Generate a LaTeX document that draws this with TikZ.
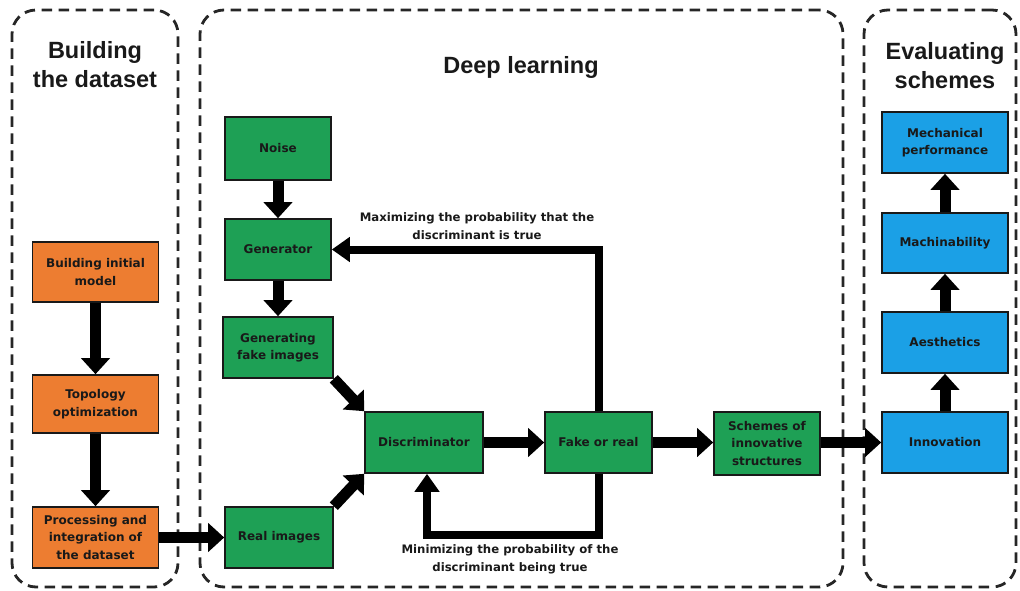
\documentclass[tikz,border=0pt]{standalone}
\usepackage{fontspec}
\setmainfont{Liberation Sans}
\newfontfamily\boxfont{DejaVu Sans}
\usetikzlibrary{arrows.meta}
\definecolor{orangebox}{RGB}{237,125,49}
\definecolor{greenbox}{RGB}{30,160,85}
\definecolor{bluebox}{RGB}{27,160,230}
\tikzset{
  container/.style={draw=black!85, line width=2.8pt, dash pattern=on 10.5pt off 6.5pt, rounded corners=24pt, inner sep=0pt},
  basebox/.style={draw=black!90, line width=1.6pt, align=center, inner sep=2pt,
    font=\boxfont\bfseries\fontsize{12}{17.5}\selectfont, text=black!90},
  obox/.style={basebox, fill=orangebox},
  gbox/.style={basebox, fill=greenbox},
  bbox/.style={basebox, fill=bluebox},
  heading/.style={align=center, font=\bfseries\fontsize{23.5}{29}\selectfont, text=black!90},
  note/.style={align=center, font=\boxfont\bfseries\fontsize{11.7}{18}\selectfont, text=black!90},
  bigarrow/.style={line width=11pt, -{Triangle[width=28pt,length=16pt]}},
  fbarrow/.style={line width=8pt, -{Triangle[width=24pt,length=18pt]}},
}
\begin{document}
\begin{tikzpicture}[x=1pt,y=-1pt]
\useasboundingbox (0,0) rectangle (1020,591);
% containers
\node[container, minimum width=166, minimum height=577] (c1) at (95,298.5) {};
\node[container, minimum width=643, minimum height=577] (c2) at (521.5,298.5) {};
\node[container, minimum width=152, minimum height=577] (c3) at (940,298.5) {};
% headings
\node[heading] (h1) at (95,65) {Building\\the dataset};
\node[heading] (h2) at (521,67) {Deep learning};
\node[heading] (h3) at (945,66) {Evaluating\\schemes};
% orange
\node[obox, minimum width=126, minimum height=60] (init) at (95.5,272) {Building initial\\model};
\node[obox, minimum width=126, minimum height=58] (topo) at (95.5,404) {Topology\\optimization};
\node[obox, minimum width=126, minimum height=61] (proc) at (95.5,537.5) {Processing and\\integration of\\the dataset};
% green
\node[gbox, minimum width=106, minimum height=63] (noise) at (278,148.5) {Noise};
\node[gbox, minimum width=106, minimum height=61] (gen) at (278,249.5) {Generator};
\node[gbox, minimum width=110, minimum height=61] (fake) at (278,347.5) {Generating\\fake images};
\node[gbox, minimum width=108, minimum height=61] (real) at (279,537.5) {Real images};
\node[gbox, minimum width=118, minimum height=61] (disc) at (424,442.5) {Discriminator};
\node[gbox, minimum width=107, minimum height=61] (for) at (598.5,442.5) {Fake or real};
\node[gbox, minimum width=106, minimum height=63] (sch) at (767,443.5) {Schemes of\\innovative\\structures};
% blue
\node[bbox, minimum width=126, minimum height=61] (mech) at (945,142.5) {Mechanical\\performance};
\node[bbox, minimum width=126, minimum height=60] (mach) at (945,243) {Machinability};
\node[bbox, minimum width=126, minimum height=61] (aes) at (945,342.5) {Aesthetics};
\node[bbox, minimum width=126, minimum height=61] (inn) at (945,442.5) {Innovation};
% arrows
\draw[bigarrow] (init) -- (topo);
\draw[bigarrow] (topo) -- (proc);
\draw[bigarrow] (proc) -- (real);
\draw[bigarrow] (noise) -- (gen);
\draw[bigarrow] (gen) -- (fake);
\draw[bigarrow] (fake.south east) -- (disc.north west);
\draw[bigarrow] (real.north east) -- (disc.south west);
\draw[bigarrow] (disc) -- (for);
\draw[bigarrow] (for.east) -- (sch.west |- for.east);
\draw[bigarrow] (sch.east |- inn.west) -- (inn.west);
\draw[bigarrow] (inn) -- (aes);
\draw[bigarrow] (aes) -- (mach);
\draw[bigarrow] (mach) -- (mech);
% feedback
\draw[fbarrow] (for.north) |- (gen.east);
\coordinate (bl) at (427,535);
\draw[fbarrow] (for.south) |- (bl) -- (bl |- disc.south);
% labels
\node[note] (lab1) at (477,226) {Maximizing the probability that the\\discriminant is true};
\node[note] (lab2) at (510,559) {Minimizing the probability of the\\discriminant being true};
\end{tikzpicture}
\end{document}
